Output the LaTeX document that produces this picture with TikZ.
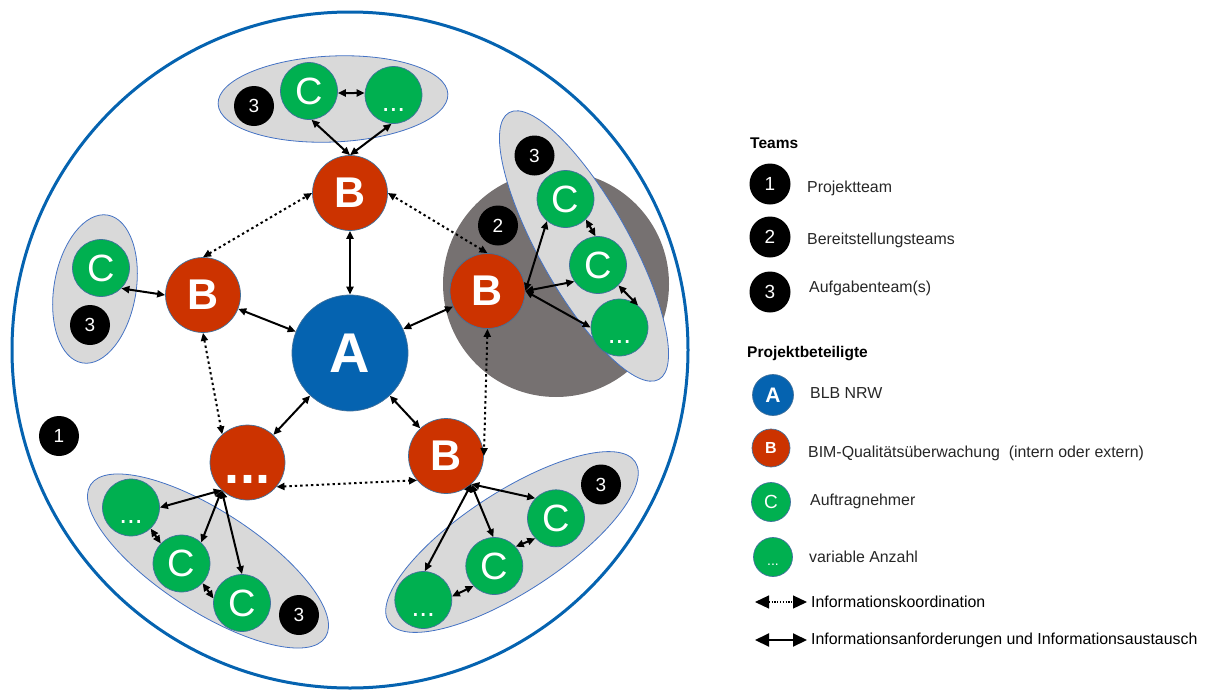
\documentclass[tikz,border=0pt]{standalone}
\usepackage{fontspec}
\setmainfont{Liberation Sans}
\usetikzlibrary{arrows.meta,shapes.geometric}
\definecolor{ablue}{HTML}{0563B0}
\definecolor{bred}{HTML}{CC3300}
\definecolor{cgreen}{HTML}{00B050}
\definecolor{lgray}{HTML}{D9D9D9}
\definecolor{dgray}{HTML}{767171}
\definecolor{edgeblue}{HTML}{4472C4}
\definecolor{rimblue}{HTML}{41719C}
\definecolor{ltxt}{HTML}{262626}
\begin{document}
\begin{tikzpicture}[x=1pt,y=-1pt,
  every node/.style={inner sep=0pt},
  rim/.style={draw=rimblue,line width=0.7pt},
  nodeA/.style={circle,rim,fill=ablue,text=white,minimum size=116pt,font=\fontsize{56}{56}\selectfont\bfseries},
  nodeB/.style={circle,rim,fill=bred,text=white,minimum size=75pt,font=\fontsize{43}{43}\selectfont\bfseries},
  nodeR/.style={circle,rim,fill=bred,text=white,minimum size=75pt,font=\fontsize{54}{54}\selectfont\bfseries,text height=0pt,text depth=0pt},
  nodeC/.style={circle,rim,fill=cgreen,text=white,minimum size=57pt,font=\fontsize{38}{38}\selectfont},
  nodeD/.style={circle,rim,fill=cgreen,text=white,minimum size=57pt,font=\fontsize{28}{28}\selectfont,text height=0pt,text depth=0pt},
  team/.style={circle,fill=black,text=white,minimum size=40pt,font=\fontsize{19}{19}\selectfont},
  cluster/.style={fill=lgray,draw=edgeblue,line width=0.8pt},
  info/.style={{Triangle[length=8pt,width=7pt]}-{Triangle[length=8pt,width=7pt]},line width=2pt},
  coord/.style={info,dash pattern=on 2.4pt off 3pt},
  ltext/.style={anchor=west,text=ltxt,font=\fontsize{15.9}{18}\selectfont},
  lhead/.style={anchor=west,text=black,font=\fontsize{15.5}{18}\selectfont\bfseries},
  bigtip/.style={{Triangle[length=14pt,width=13pt]}-{Triangle[length=14pt,width=13pt]}}
]
\useasboundingbox (0,0) rectangle (1216,691);
% project team circle
\draw[ablue,line width=3pt] (350,350) circle [radius=338];
% delivery team
\fill[dgray] (556,284) circle [radius=113];
% task team clusters
\draw[cluster,rotate around={2.5:(333,99)}] (333,99) ellipse [x radius=115,y radius=43];
\draw[cluster,rotate around={80.3:(95,289)}] (95,289) ellipse [x radius=75,y radius=41];
\draw[cluster,rotate around={-60.7:(584,246)}] (584,246) ellipse [x radius=153,y radius=45];
\draw[cluster,rotate around={-33:(208,561)}] (208,561) ellipse [x radius=140,y radius=50];
\draw[cluster,rotate around={33:(512,542)}] (512,542) ellipse [x radius=147,y radius=50];

% main nodes
\node[nodeA] (A) at (350,353) {A};
\node[nodeB] (Bt) at (350,193) {B};
\node[nodeB] (Bl) at (203,295) {B};
\node[nodeB] (Br) at (487.5,291) {B};
\node[nodeB] (Bb) at (446,456) {B};
\node[nodeR] (R) at (247.5,462.5) {\raisebox{-21pt}{...}};

% top cluster
\node[team] (Tt) at (254,106) {3};
\node[nodeC] (Ct) at (309,91) {C};
\node[nodeD] (Dt) at (393.5,95) {\raisebox{-16pt}{...}};
% left cluster
\node[nodeC] (Cl) at (101,268) {C};
\node[team] (Tl) at (90,325) {3};
% right cluster
\node[team] (T2) at (498,225.5) {2};
\node[team] (Tr) at (534.5,155.5) {3};
\node[nodeC] (Cr1) at (565.5,199) {C};
\node[nodeC] (Cr2) at (598,265) {C};
\node[nodeD] (Dr) at (619.5,327.5) {\raisebox{-16pt}{...}};
% bottom-left cluster
\node[nodeD] (Dbl) at (131,507.5) {\raisebox{-16pt}{...}};
\node[nodeC] (Cbl1) at (181.5,563.5) {C};
\node[nodeC] (Cbl2) at (242,603) {C};
\node[team] (Tbl) at (299,615) {3};
% bottom-right cluster
\node[nodeD] (Dbr) at (423.3,600) {\raisebox{-16pt}{...}};
\node[nodeC] (Cbr1) at (494.3,566) {C};
\node[nodeC] (Cbr2) at (556,518.3) {C};
\node[team] (Tbr) at (601,484.5) {3};
% project team label
\node[team] (T1) at (59,436) {1};

% information requirements and exchange
\draw[info] (A) -- (Bt);
\draw[info] (A) -- (Bl);
\draw[info] (A) -- (Br);
\draw[info] (A) -- (Bb);
\draw[info] (A) -- (R);
\draw[info] (Bt.north) -- (Ct.-85);
\draw[info] (Bt.north) -- (Dt.-94);
\draw[info] (Ct.-4) -- (Dt.176);
\draw[info] (Cl.-45) -- (Bl.west);
\draw[info] (Br.east) -- (Cr1.-130);
\draw[info] (Br.east) -- (Cr2.-145);
\draw[info] (Br.east) -- (Dr.180);
\draw[info] (Cr1.-45) -- (Cr2.95);
\draw[info] (Cr2.-45) -- (Dr.50);
\draw[info] (R.-133) -- (Dbl.0);
\draw[info] (R.-133) -- (Cbl1.47);
\draw[info] (R.-133) -- (Cbl2.90);
\draw[info] (Dbl.-47) -- (Cbl1.136);
\draw[info] (Cbl1.-43) -- (Cbl2.171);
\draw[info] (Bb.-48) -- (Dbr.87);
\draw[info] (Bb.-48) -- (Cbr1.92);
\draw[info] (Bb.-48) -- (Cbr2.136);
\draw[info] (Dbr.7) -- (Cbr1.-136);
\draw[info] (Cbr1.42) -- (Cbr2.-136);
% information coordination
\draw[coord] (Bl.north) -- (Bt.west);
\draw[coord] (Br.north) -- (Bt.east);
\draw[coord] (Bl.south) -- (R.132);
\draw[coord] (Br.south) -- (Bb.east);
\draw[coord] (R.-40) -- (Bb.-140);

% legend
\node[lhead] (LTeams) at (750,143) {Teams};
\node[team,minimum size=41pt] (L1) at (770,184) {1};
\node[ltext] (L1t) at (807,188) {Projektteam};
\node[team,minimum size=41pt] (L2) at (770,237) {2};
\node[ltext] (L2t) at (807,240) {Bereitstellungsteams};
\node[team,minimum size=41pt] (L3) at (770,292) {3};
\node[ltext] (L3t) at (809,288) {Aufgabenteam(s)};
\node[lhead] (LProj) at (747,354) {Projektbeteiligte};
\node[nodeA,minimum size=41pt,font=\fontsize{21}{21}\selectfont\bfseries] (LA) at (773,395) {A};
\node[ltext] (LAt) at (810,393) {BLB NRW};
\node[nodeB,minimum size=38pt,font=\fontsize{16}{16}\selectfont\bfseries] (LB) at (771,448) {B};
\node[ltext] (LBt) at (808,453) {BIM-Qualitätsüberwachung\ \ (intern oder extern)};
\node[nodeC,minimum size=39pt,font=\fontsize{19}{19}\selectfont] (LC) at (771,502) {C};
\node[ltext] (LCt) at (810,501) {Auftragnehmer};
\node[nodeD,minimum size=39pt,font=\fontsize{14}{14}\selectfont] (LD) at (773,557) {\raisebox{-8pt}{...}};
\node[ltext] (LDt) at (809,557) {variable Anzahl};
\coordinate (K1a) at (755,602);
\coordinate (K1b) at (807,602);
\draw[bigtip,line width=1.2pt,dash pattern=on 1.2pt off 1.6pt] (K1a) -- (K1b);
\node[ltext,text=black] (K1t) at (811,602) {Informationskoordination};
\coordinate (K2a) at (755,640);
\coordinate (K2b) at (807,640);
\draw[bigtip,line width=2pt] (K2a) -- (K2b);
\node[ltext,text=black] (K2t) at (811,640) {Informationsanforderungen und Informationsaustausch};
\end{tikzpicture}
\end{document}
